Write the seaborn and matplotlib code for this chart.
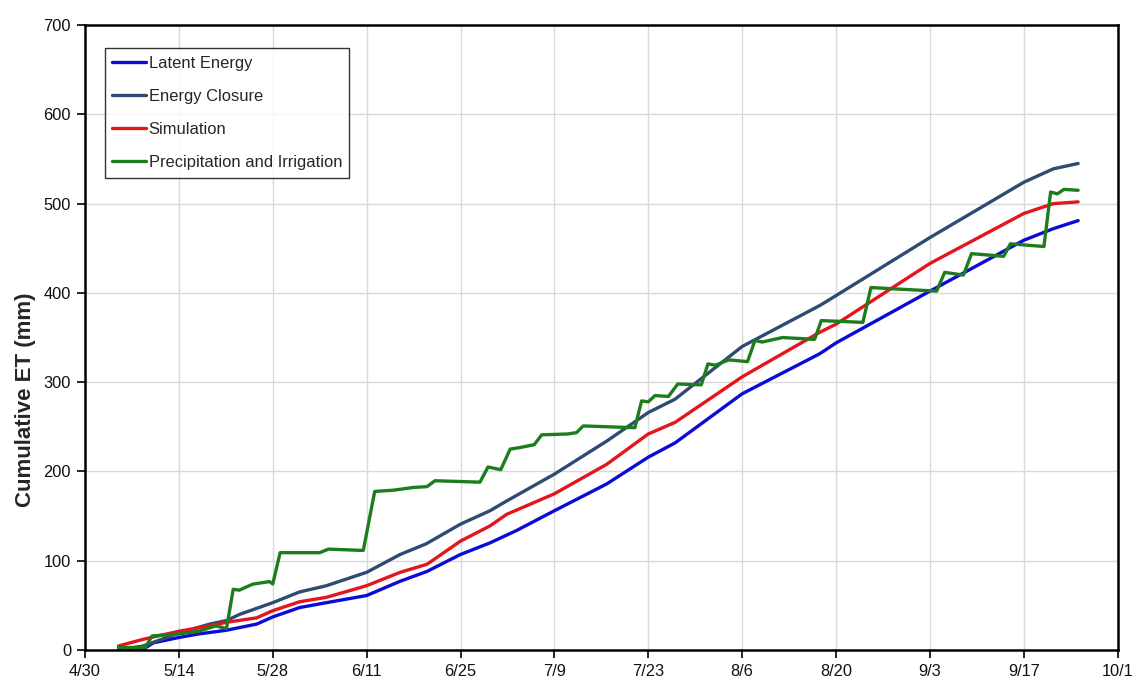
import matplotlib
matplotlib.use("Agg")
import matplotlib.pyplot as plt
import seaborn as sns
import pandas as pd
import numpy as np

# Season start (day 0) used for the day offsets below
season_start = pd.Timestamp("2013-04-30")

# Latent Energy cumulative ET (day offset, mm)
le_days = [5, 8.7, 10.2, 14, 17, 21, 25.6, 28, 32, 36, 42, 47, 51, 56, 60.4, 64.4,
           70, 77.8, 84, 88, 98, 109.6, 112, 126, 140, 144.4, 148.1]
le_vals = [0, 1, 8, 14, 18, 22, 29, 37, 47.5, 53, 61, 77, 88, 107, 120, 134,
           156, 186, 216, 232, 287, 332, 344, 402, 459, 472, 481]

# Energy Closure cumulative ET
ec_days = [5, 8.7, 14, 18.6, 21.1, 23.1, 28, 32, 36, 42, 47, 50.9, 56, 60.4, 62.9,
           70, 77.8, 84, 88, 98, 109.6, 112, 126, 140, 144.4, 148.1]
ec_vals = [0, 4.5, 19, 29, 33, 40, 53, 65, 72, 87, 107, 119, 141, 156, 167,
           197, 234, 266, 281, 340, 386, 397, 462, 524, 539, 545]

# Simulated cumulative ET
sim_days = [5, 8.7, 14, 18.6, 21.1, 25.6, 28, 32, 36, 42, 47, 51, 56, 60.4, 62.9,
            70, 77.8, 84, 88, 98, 109.6, 112, 126, 140, 144.4, 148.1]
sim_vals = [4.5, 12, 21, 27, 31, 36, 44, 54, 59, 72, 87, 96, 122, 139, 152,
            175, 208, 242, 255, 306, 356, 365, 433, 489, 500, 502]

# Cumulative precipitation plus irrigation
pi_days = [5, 9, 10, 14, 17, 19.5, 21.1, 22.1, 23, 25, 27.5, 28, 29.1, 35, 36.3,
           41.5, 43.2, 46, 48.9, 51, 52.2, 58.9, 60.1, 62, 63.4, 65, 67, 68.1,
           72, 73.3, 74.3, 82, 83, 84, 85, 87, 88.4, 91.9, 92.9, 94, 96, 98.8,
           99.9, 101, 104, 108.8, 109.8, 116, 117.2, 127, 128.2, 131, 132.2,
           137, 138, 143, 144, 145, 146, 148.1]
pi_vals = [2.6, 3, 15.7, 18, 21, 27, 24, 68, 67, 73.7, 76.6, 74, 109, 109, 113,
           111.5, 177.6, 179, 182, 183, 189.6, 188, 205, 202, 225, 227, 230, 241,
           242, 243.5, 251, 249, 279, 278, 285, 284, 298, 297, 320.5, 319, 325, 323,
           346.7, 345, 350, 348, 369, 367, 406, 402, 423, 420, 444,
           441, 455, 452, 513, 511, 516, 515]

series_names = ["Latent Energy", "Energy Closure", "Simulation",
                "Precipitation and Irrigation"]
series_colors = ["#0b0bd6", "#2f4b73", "#e3161c", "#1d7d1d"]

y_ticks = [0, 100, 200, 300, 400, 500, 600, 700]

frames = []
for name, days, vals in [(series_names[0], le_days, le_vals),
                         (series_names[1], ec_days, ec_vals),
                         (series_names[2], sim_days, sim_vals),
                         (series_names[3], pi_days, pi_vals)]:
    frames.append(pd.DataFrame({
        "date": season_start + pd.to_timedelta(days, unit="D"),
        "et": vals,
        "series": name,
    }))
df = pd.concat(frames, ignore_index=True)

sns.set_theme(style="white")
plt.rcParams["font.family"] = ["Liberation Sans", "DejaVu Sans"]

fig = plt.figure(figsize=(11.44, 6.98), dpi=100)
ax = fig.add_axes([0.0743, 0.0688, 0.9027, 0.8952])

sns.lineplot(data=df, x="date", y="et", hue="series", hue_order=series_names,
             palette=series_colors, estimator=None, sort=False, linewidth=2.4,
             ax=ax)

x_ticks = pd.date_range(season_start, season_start + pd.Timedelta(days=154), freq="14D")
ax.set_xlim(x_ticks[0], x_ticks[-1])
ax.set_xticks(x_ticks)
ax.set_xticklabels([f"{d.month}/{d.day}" for d in x_ticks], fontsize=11.8)
ax.set_ylim(0, 700)
ax.set_yticks(y_ticks)
ax.set_yticklabels([str(v) for v in y_ticks], fontsize=11.8)

ax.grid(True, color="#d9d9d9", linewidth=1.0)
ax.set_axisbelow(True)
for side in ["left", "right", "top", "bottom"]:
    ax.spines[side].set_color("black")
    ax.spines[side].set_linewidth(1.8)
ax.tick_params(axis="both", direction="out", length=6, width=1.2,
               color="black", labelcolor="#111111", bottom=True, left=True, pad=4)

ax.set_xlabel("")
ax.set_ylabel("Cumulative ET (mm)", fontsize=16, fontweight="bold")
ax.yaxis.set_label_coords(-0.047, 0.40)

handles, labels = ax.get_legend_handles_labels()
leg = ax.legend(handles, labels, loc="upper left", bbox_to_anchor=(0.0194, 0.963),
                frameon=True, fancybox=False, edgecolor="black", fontsize=11.9,
                handlelength=2.0, handletextpad=0.18, labelspacing=1.1,
                borderpad=0.45, borderaxespad=0)
leg.get_frame().set_linewidth(1.0)
for line in leg.get_lines():
    line.set_linewidth(2.4)

fig.savefig("out.png", dpi=100)
